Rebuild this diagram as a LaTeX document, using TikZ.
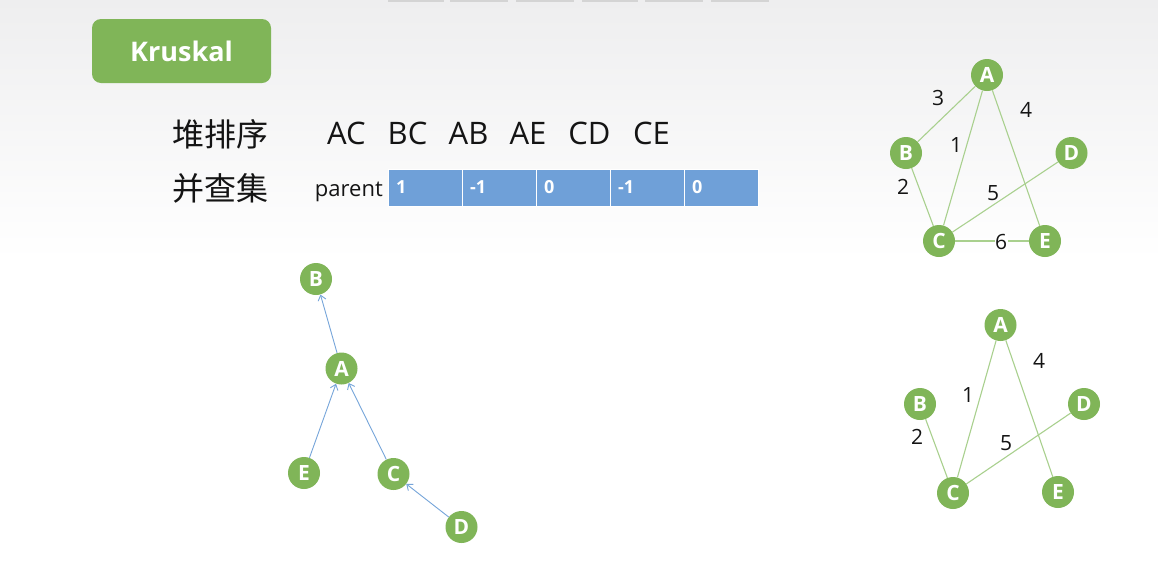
\documentclass[tikz,border=0pt]{standalone}
\usepackage{fontspec}
\setmainfont{Open Sans}
\newfontfamily\cjkfont{Noto Sans CJK SC}
\usetikzlibrary{arrows.meta}
\definecolor{leaf}{RGB}{128,181,88}
\definecolor{edgegreen}{RGB}{169,208,142}
\definecolor{cellblue}{RGB}{111,160,216}
\definecolor{arrowblue}{RGB}{118,165,218}
\definecolor{topgray}{RGB}{238,238,239}
\definecolor{tabgray}{RGB}{212,212,212}
\definecolor{ink}{RGB}{20,20,20}

\begin{document}
\begin{tikzpicture}[x=1pt,y=-1pt,
  vertex/.style={circle, fill=leaf, minimum size=32pt, inner sep=0pt, text=white,
    font=\bfseries\fontsize{21}{21}\selectfont},
  gedge/.style={draw=edgegreen, line width=1.1pt},
  weight/.style={font=\fontsize{21}{21}\selectfont, text=ink},
  link/.style={draw=arrowblue, line width=0.9pt, -{Straight Barb[length=5pt,width=8pt]}},
  cell/.style={fill=cellblue, draw=white, line width=0.8pt, minimum height=37pt,
    text width=58pt, inner xsep=8pt, inner ysep=0pt, align=left, text=white,
    font=\bfseries\fontsize{18}{18}\selectfont},
  pair/.style={font=\fontsize{31}{31}\selectfont, text=ink},
  hanzi/.style={font=\cjkfont\fontsize{32}{32}\selectfont, text=ink},
  tab/.style={fill=tabgray}
]
% canvas and background
\useasboundingbox (0,0) rectangle (1158,563);
\fill[white] (0,0) rectangle (1158,563);
\shade[top color=topgray, bottom color=white] (0,0) rectangle (1158,260);

% thin tabs along the upper edge
\fill[tab] (388,0) rectangle (444,2);
\fill[tab] (450,0) rectangle (508,2);
\fill[tab] (516,0) rectangle (574,2);
\fill[tab] (582,0) rectangle (638,2);
\fill[tab] (645,0) rectangle (703,2);
\fill[tab] (711,0) rectangle (769,2);

% title badge
\node[fill=leaf, rounded corners=9pt, minimum width=179pt, minimum height=64pt,
  text=white, font=\bfseries\fontsize{27}{27}\selectfont] (title) at (181.5,51) {Kruskal};

% sorted edge list
\node[hanzi] (heap) at (220,134) {堆排序};
\node[pair] (pAC) at (346.5,133) {AC};
\node[pair] (pBC) at (407.5,133) {BC};
\node[pair] (pAB) at (468.5,133) {AB};
\node[pair] (pAE) at (528,133) {AE};
\node[pair] (pCD) at (589.5,133) {CD};
\node[pair] (pCE) at (651.5,133) {CE};

% union-find parent array
\node[hanzi] (ufs) at (220,188) {并查集};
\node[anchor=base east, font=\fontsize{22}{22}\selectfont, text=ink, inner sep=1pt] (parent) at (384,196) {parent};
\node[cell] (c1) at (425,187.5) {1};
\node[cell] (c2) at (499,187.5) {-1};
\node[cell] (c3) at (573,187.5) {0};
\node[cell] (c4) at (647,187.5) {-1};
\node[cell] (c5) at (721,187.5) {0};

% full weighted graph
\node[vertex] (gA) at (987,75) {A};
\node[vertex] (gB) at (906,153) {B};
\node[vertex] (gD) at (1071.5,153) {D};
\node[vertex] (gC) at (939,241) {C};
\node[vertex] (gE) at (1045,241) {E};
\draw[gedge] (gA) -- (gB);
\draw[gedge] (gA) -- (gC);
\draw[gedge] (gA) -- (gE);
\draw[gedge] (gB) -- (gC);
\draw[gedge] (gC) -- (gD);
\draw[gedge] (gC) -- (gE);
\node[weight] (w3) at (938,98) {3};
\node[weight] (w4) at (1026,110) {4};
\node[weight] (w1) at (956,145) {1};
\node[weight] (w2) at (903,187) {2};
\node[weight] (w5) at (993,193) {5};
\node[weight, fill=white, inner sep=0.5pt] (w6) at (1001,242) {6};

% spanning tree
\node[vertex] (sA) at (1000.5,325) {A};
\node[vertex] (sB) at (920,404) {B};
\node[vertex] (sD) at (1084,404) {D};
\node[vertex] (sC) at (953,493) {C};
\node[vertex] (sE) at (1058,492) {E};
\draw[gedge] (sA) -- (sC);
\draw[gedge] (sA) -- (sE);
\draw[gedge] (sB) -- (sC);
\draw[gedge] (sC) -- (sD);
\node[weight] (t4) at (1039,361) {4};
\node[weight] (t1) at (968,395) {1};
\node[weight] (t2) at (917,437) {2};
\node[weight] (t5) at (1006,443) {5};

% union-find forest
\node[vertex] (fB) at (316,279) {B};
\node[vertex] (fA) at (341.5,368.5) {A};
\node[vertex] (fE) at (304,473) {E};
\node[vertex] (fC) at (393.5,474) {C};
\node[vertex] (fD) at (461.5,527) {D};
\draw[link] (fA) -- (fB);
\draw[link] (fE) -- (fA);
\draw[link] (fC) -- (fA);
\draw[link] (fD) -- (fC);
\end{tikzpicture}
\end{document}
